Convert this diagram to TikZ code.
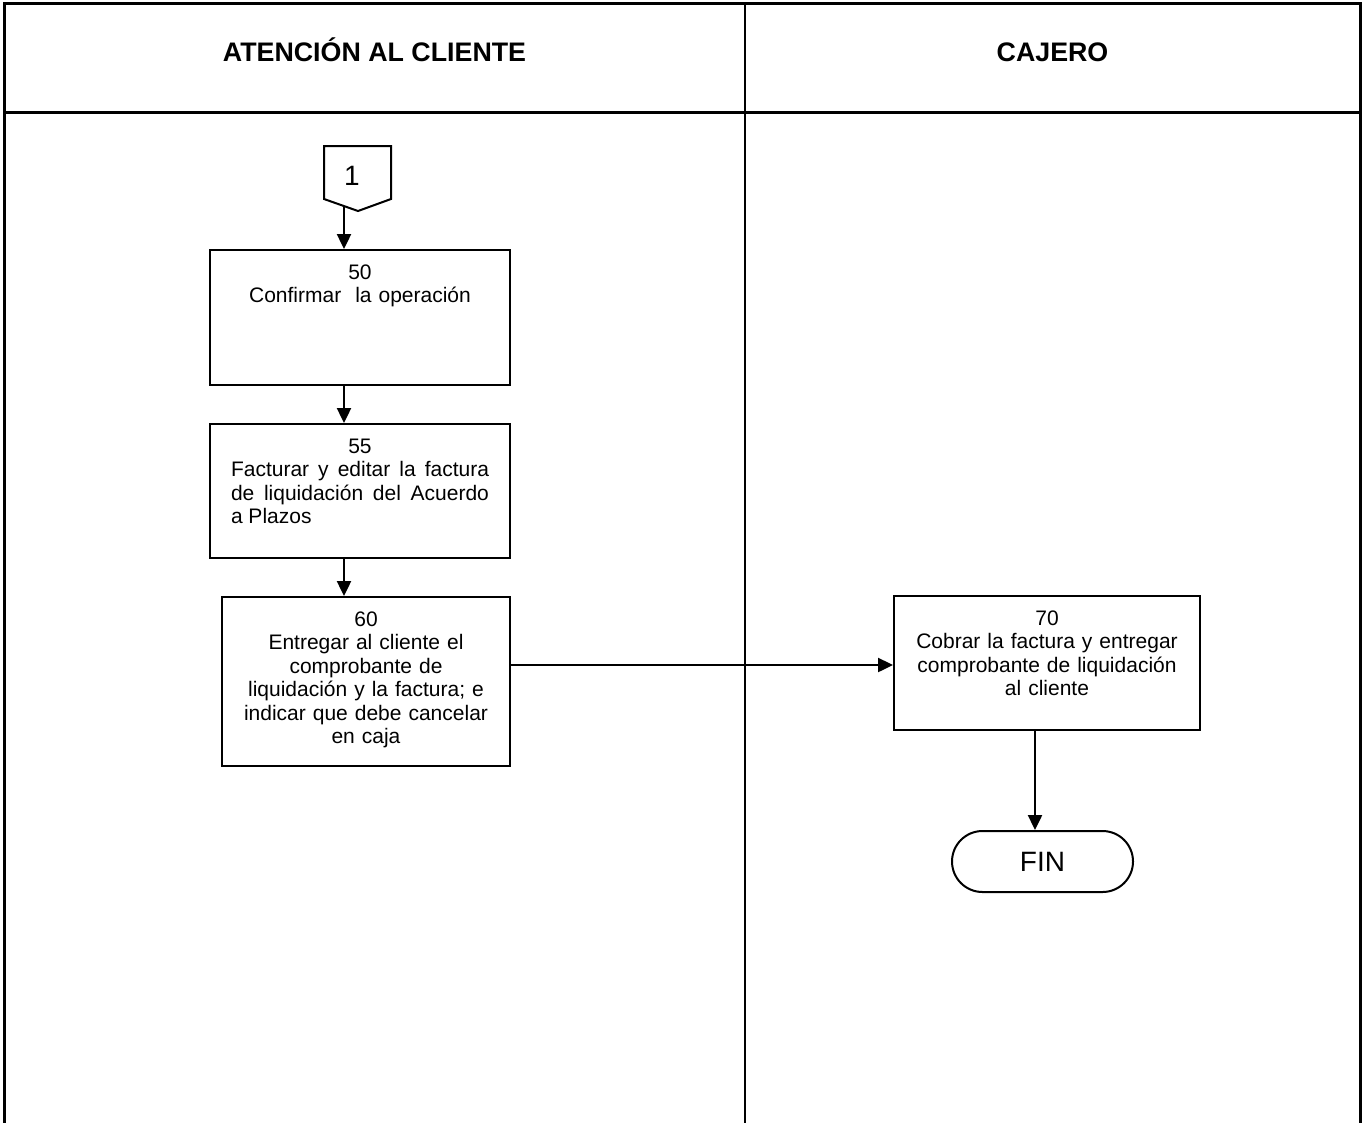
\documentclass[tikz,border=0pt]{standalone}
\usepackage{fontspec}
\setmainfont{Liberation Sans}
\usetikzlibrary{arrows.meta,shapes.misc,calc}
\tikzset{
  stepbox/.style={draw, line width=2pt, inner sep=0pt, anchor=north west},
  boxtext/.style={inner sep=0pt, anchor=north, yshift=-13.5pt, font=\fontsize{21}{23.5}\selectfont},
  arr/.style={line width=2.4pt, -{Triangle[length=15pt,width=14pt]}},
  grid/.style={line width=3pt},
  head/.style={inner sep=0pt, anchor=base, font=\fontsize{26.8}{30}\selectfont\bfseries},
}
\begin{document}
\begin{tikzpicture}[x=1pt,y=-1pt]
\useasboundingbox (0,0) rectangle (1362,1122);
% table
\draw[grid] (4,1125) -- (4,3) -- (1360,3) -- (1360,1125);
\draw[grid] (4,112) -- (1360,112);
\draw[grid, line width=2.4pt] (745,3) -- (745,1125);
\node[head] (h1) at (374.5,61) {ATENCIÓN AL CLIENTE};
\node[head] (h2) at (1052.5,61) {CAJERO};
% off-page connector
\draw[line width=2pt, line join=miter] (324,146) -- (391,146) -- (391,199) -- (358,211) -- (324,199) -- cycle;
\node[inner sep=0pt, anchor=base, font=\fontsize{28}{32}\selectfont] (c1) at (352,185) {1};
\coordinate (c1tip) at (344,207);
\coordinate (ax) at (344,0);
% boxes
\node[stepbox, minimum width=300pt, minimum height=135pt] (b50) at (209,249) {};
\node[stepbox, minimum width=300pt, minimum height=134pt] (b55) at (209,423) {};
\node[stepbox, minimum width=288pt, minimum height=169pt] (b60) at (221,596) {};
\node[stepbox, minimum width=306pt, minimum height=134pt] (b70) at (893,595) {};
\node[draw, line width=2pt, rounded rectangle, minimum width=181pt, minimum height=61pt, inner sep=0pt,
      font=\fontsize{28}{32}\selectfont] (fin) at (1042.5,861.5) {FIN};
% texts
\node[boxtext, text width=280pt, align=center] (t50) at (b50.north) {\strut 50\\Confirmar~~la operación};
\node[boxtext, text width=258pt, align=justify] (t55) at (b55.north)
  {\strut\makebox[\linewidth]{55}\\Facturar y editar la factura\linebreak de liquidación del Acuerdo\linebreak a Plazos};
\node[boxtext, text width=275pt, align=center] (t60) at (b60.north)
  {\strut 60\\Entregar al cliente el\\comprobante de\\liquidación y la factura; e\\indicar que debe cancelar\\en caja};
\node[boxtext, text width=300pt, align=center] (t70) at (b70.north)
  {\strut 70\\Cobrar la factura y entregar\\comprobante de liquidación\\al cliente};
% connectors
\coordinate (fx) at (1035,0);
\draw[arr] (c1tip) -- (ax |- b50.north);
\draw[arr] (ax |- b50.south) -- (ax |- b55.north);
\draw[arr] (ax |- b55.south) -- (ax |- b60.north);
\draw[arr] ($(b60.north east)+(0,69)$) -- ($(b70.north west)+(0,70)$);
\draw[arr] (fx |- b70.south) -- (fx |- fin.north);
\end{tikzpicture}
\end{document}
